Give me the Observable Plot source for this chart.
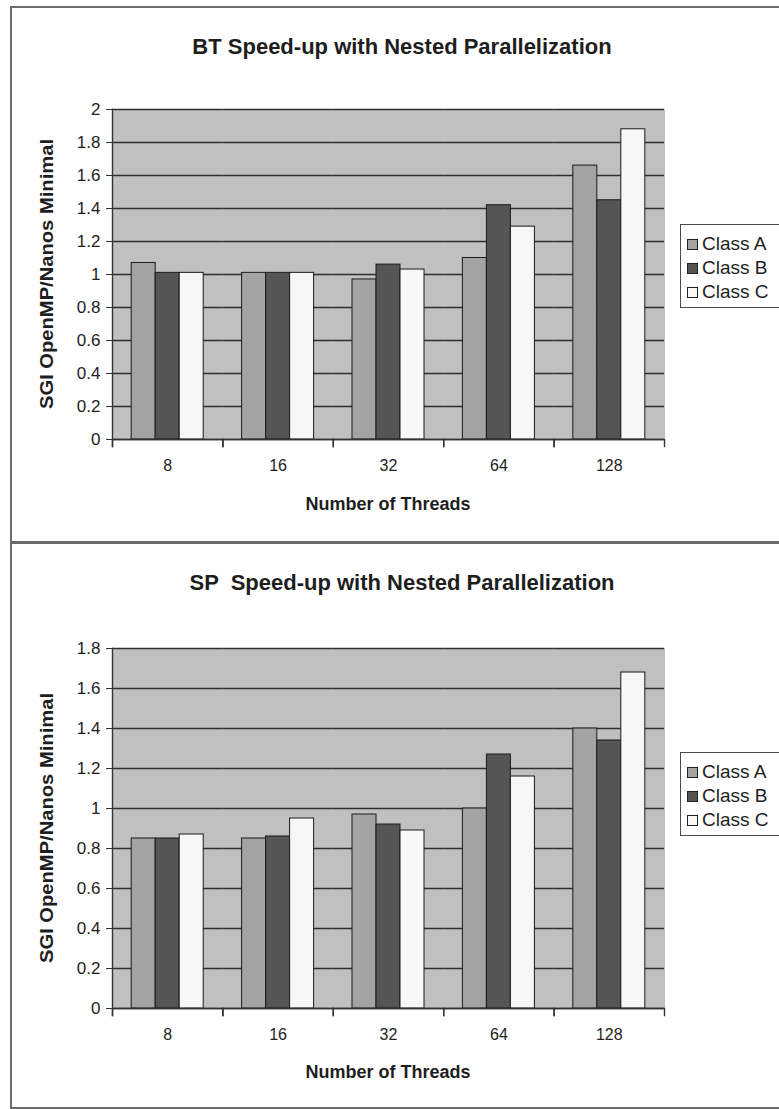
<!DOCTYPE html>
<html>
<head>
<meta charset="utf-8">
<script src="https://cdn.jsdelivr.net/npm/d3@7"></script>
<script src="https://cdn.jsdelivr.net/npm/@observablehq/plot@0.6"></script>
<style>
  body { margin: 0; background: #fff; font-family: "Liberation Sans", Arial, sans-serif; color: #1e1e1e; }
  #page { position: relative; width: 779px; height: 1109px; overflow: hidden; background: #fff; }
  .hline, .vline { position: absolute; background: #6a6a6a; }
  .title { position: absolute; transform: translate(-50%, -50%); font-weight: bold; font-size: 22px; white-space: pre; }
  .xlab { position: absolute; transform: translate(-50%, -50%); font-weight: bold; font-size: 18px; white-space: pre; }
  .ylab { position: absolute; transform: translate(-50%, -50%) rotate(-90deg) scaleX(1.12); font-weight: bold; font-size: 18px; white-space: pre; }
  .chart { position: absolute; left: 0; }
  .legend { position: absolute; left: 680px; width: 120px; border: 1.5px solid #4a4a4a; background: #fff; box-sizing: border-box; }
  .legend .row { position: absolute; left: 6px; display: flex; align-items: center; font-size: 19px; transform: translateY(-50%); white-space: pre; }
  .legend .sw { width: 9px; height: 9px; border: 1px solid #222; margin-right: 4px; }
</style>
</head>
<body>
<div id="page">
  <div class="hline" style="left:10px; top:6px; width:769px; height:2px;"></div>
  <div class="vline" style="left:10px; top:6px; width:2px; height:1103px;"></div>
  <div class="hline" style="left:10px; top:541px; width:769px; height:3px;"></div>
  <div class="hline" style="left:10px; top:1107px; width:769px; height:2px;"></div>

  <div class="title" style="left:402px; top:47px;">BT Speed-up with Nested Parallelization</div>
  <div class="title" style="left:402px; top:583px;">SP  Speed-up with Nested Parallelization</div>

  <div id="bt" class="chart" style="top:80px;"></div>
  <div id="sp" class="chart" style="top:620px;"></div>

  <div class="xlab" style="left:388px; top:504px;">Number of Threads</div>
  <div class="xlab" style="left:388px; top:1072px;">Number of Threads</div>
  <div class="ylab" style="left:47px; top:274px;">SGI OpenMP/Nanos Minimal</div>
  <div class="ylab" style="left:47px; top:828px;">SGI OpenMP/Nanos Minimal</div>

  <div id="legBT" class="legend" style="top:224px; height:84px;"></div>
  <div id="legSP" class="legend" style="top:752px; height:84px;"></div>
</div>
<script>
// ---- data ----
const threads = ["8", "16", "32", "64", "128"];
const classes = ["Class A", "Class B", "Class C"];
const classColors = ["#a3a3a3", "#555555", "#f7f7f7"];

const btClassA = [1.07, 1.01, 0.97, 1.10, 1.66];
const btClassB = [1.01, 1.01, 1.06, 1.42, 1.45];
const btClassC = [1.01, 1.01, 1.03, 1.29, 1.88];
const btTicks = [0, 0.2, 0.4, 0.6, 0.8, 1, 1.2, 1.4, 1.6, 1.8, 2];

const spClassA = [0.85, 0.85, 0.97, 1.00, 1.40];
const spClassB = [0.85, 0.86, 0.92, 1.27, 1.34];
const spClassC = [0.87, 0.95, 0.89, 1.16, 1.68];
const spTicks = [0, 0.2, 0.4, 0.6, 0.8, 1, 1.2, 1.4, 1.6, 1.8];

function toRows(series) {
  const rows = [];
  threads.forEach((t, i) => {
    classes.forEach((c, k) => rows.push({threads: t, cls: c, value: series[k][i]}));
  });
  return rows;
}

function chart(series, ticks, marginTop, plotH) {
  const marginBottom = 80;
  return Plot.plot({
    width: 680,
    height: marginTop + plotH + marginBottom,
    marginLeft: 112,
    marginRight: 16,
    marginTop,
    marginBottom,
    style: {fontFamily: "'Liberation Sans', Arial, sans-serif", fontSize: "16px", color: "#1e1e1e", background: "transparent", overflow: "visible"},
    fx: {domain: threads, paddingInner: 0, paddingOuter: 0, round: false, label: null, axis: null},
    x: {domain: classes, paddingInner: 0, paddingOuter: 0.8, round: false, axis: null},
    y: {domain: [ticks[0], ticks[ticks.length - 1]], label: null, axis: null},
    color: {domain: classes, range: classColors},
    marks: [
      Plot.frame({fill: "#c0c0c0", stroke: "#c0c0c0"}),
      Plot.ruleY(ticks, {stroke: "#2e2e2e", strokeWidth: 1.4}),
      Plot.barY(toRows(series), {fx: "threads", x: "cls", y: "value", fill: "cls", stroke: "#1a1a1a", strokeWidth: 1}),
      Plot.ruleY([0], {stroke: "#333", strokeWidth: 1.4}),
      Plot.frame({anchor: "left", stroke: "#333", strokeWidth: 1.4, facetAnchor: "left", insetBottom: -7}),
      Plot.frame({anchor: "left", stroke: "#333", strokeWidth: 1.4, insetTop: plotH, insetBottom: -7}),
      Plot.frame({anchor: "right", stroke: "#333", strokeWidth: 1.4, insetTop: plotH, insetBottom: -7}),
      Plot.axisY({ticks, tickFormat: (d) => String(d), tickSize: 6, tickPadding: 6, label: null, fontSize: 17, stroke: "#333"}),
      Plot.axisFx({anchor: "bottom", tickSize: 0, tickPadding: 20, label: null, fontSize: 16})
    ]
  });
}

document.getElementById("bt").append(chart([btClassA, btClassB, btClassC], btTicks, 29, 330));
document.getElementById("sp").append(chart([spClassA, spClassB, spClassC], spTicks, 28, 360));

function legend(id) {
  const el = document.getElementById(id);
  classes.forEach((c, k) => {
    const row = document.createElement("div");
    row.className = "row";
    row.style.top = (19 + 24 * k) + "px";
    const sw = document.createElement("div");
    sw.className = "sw";
    sw.style.background = classColors[k];
    const tx = document.createElement("span");
    tx.textContent = c;
    row.append(sw, tx);
    el.append(row);
  });
}
legend("legBT");
legend("legSP");
</script>
</body>
</html>
